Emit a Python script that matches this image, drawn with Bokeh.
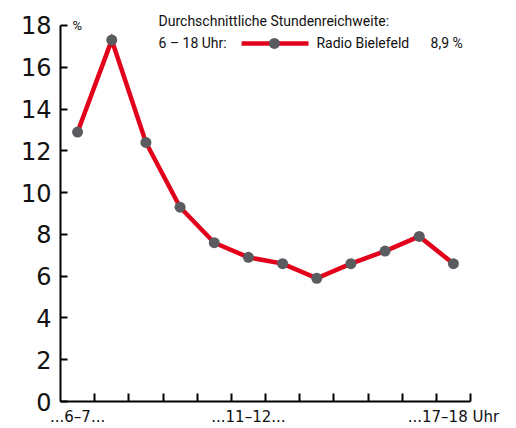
from bokeh.plotting import figure
from bokeh.models import FixedTicker, Label, Range1d
from bokeh.embed import file_html
from bokeh.resources import INLINE

hours = ["6–7", "7–8", "8–9", "9–10", "10–11", "11–12", "12–13", "13–14", "14–15", "15–16", "16–17", "17–18"]
reach = [12.9, 17.3, 12.4, 9.3, 7.6, 6.9, 6.6, 5.9, 6.6, 7.2, 7.9, 6.6]
x_labels = {0.5: "...6–7...", 5.5: "...11–12...", 11.5: "...17–18 Uhr"}
y_ticks = [0, 2, 4, 6, 8, 10, 12, 14, 16, 18]
station = "Radio Bielefeld"
avg_text = "8,9 %"

RED = "#e2001a"
GREY = "#5b5c5f"
FONT = "Roboto"

xs = [i + 0.5 for i in range(len(hours))]

p = figure(width=516, height=428, output_backend="svg", toolbar_location=None,
           x_range=Range1d(0, len(hours)), y_range=Range1d(0, 19.1),
           min_border_left=60, min_border_right=46, min_border_top=2, min_border_bottom=26)
p.outline_line_color = None
p.xgrid.visible = False
p.ygrid.visible = False

# x axis
xa = p.xaxis[0]
xa.ticker = FixedTicker(ticks=list(x_labels.keys()), minor_ticks=list(range(1, len(hours) + 1)))
xa.major_label_overrides = x_labels
xa.major_tick_in = 0
xa.major_tick_out = 0
xa.minor_tick_in = 8
xa.minor_tick_out = 0
xa.minor_tick_line_width = 2
xa.minor_tick_line_color = "black"
xa.axis_line_width = 2
xa.axis_line_color = "black"
xa.major_label_standoff = 6
xa.major_label_text_font = "DejaVu Sans"
xa.major_label_text_font_size = "15px"
xa.major_label_text_color = "#111111"

# y axis
ya = p.yaxis[0]
ya.bounds = (0, 18)
ya.ticker = FixedTicker(ticks=y_ticks, minor_ticks=[])
ya.major_tick_in = 7
ya.major_tick_out = 0
ya.major_tick_line_width = 2
ya.major_tick_line_color = "black"
ya.axis_line_width = 2
ya.axis_line_color = "black"
ya.major_label_standoff = 9
ya.major_label_text_font = "DejaVu Sans"
ya.major_label_text_font_size = "24px"
ya.major_label_text_color = "#111111"

# data
p.line(xs, reach, line_color=RED, line_width=4.5, line_join="miter")
p.scatter(xs, reach, size=11, fill_color=GREY, line_color=None)

# unit label
p.add_layout(Label(x=0.35, y=18.0, text="%", text_font=FONT, text_font_size="13px",
                   text_baseline="middle", text_color="#111111"))

# legend
p.add_layout(Label(x=2.87, y=18.23, text="Durchschnittliche Stundenreichweite:", text_font=FONT,
                   text_font_size="14px", text_baseline="middle", text_color="#111111"))
p.add_layout(Label(x=2.87, y=17.14, text="6 – 18 Uhr:", text_font=FONT,
                   text_font_size="14px", text_baseline="middle", text_color="#111111"))
p.line([5.30, 7.26], [17.14, 17.14], line_color=RED, line_width=4.5)
p.scatter([6.26], [17.14], size=11, fill_color=GREY, line_color=None)
p.add_layout(Label(x=7.49, y=17.14, text=station, text_font=FONT,
                   text_font_size="14px", text_baseline="middle", text_color="#111111"))
p.add_layout(Label(x=10.83, y=17.14, text=avg_text, text_font=FONT,
                   text_font_size="14px", text_baseline="middle", text_color="#111111"))

open("out.html", "w").write(file_html(p, INLINE))
